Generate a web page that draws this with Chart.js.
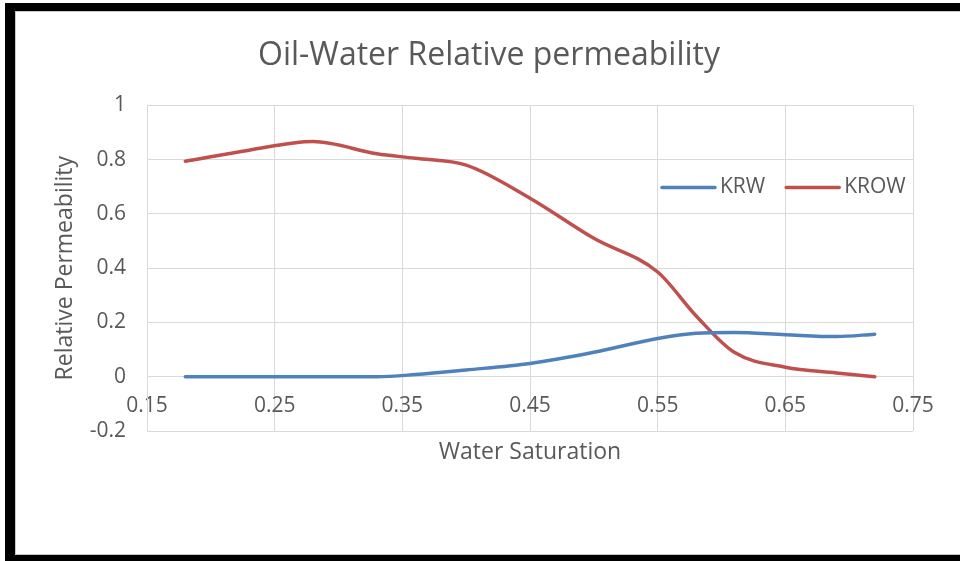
<!DOCTYPE html>
<html>
<head>
<meta charset="utf-8">
<script src="https://cdn.jsdelivr.net/npm/chart.js@4"></script>
<style>
  html, body { margin: 0; padding: 0; background: #fff; overflow: hidden; }
  #wrap { position: relative; width: 960px; height: 561px; }
  #wrap canvas { position: absolute; left: 0; top: 0; }
  .bar { position: absolute; background: #000; }
  .edge { position: absolute; background: #c8c8c8; }
</style>
</head>
<body>
<div id="wrap">
  <canvas id="chart" width="960" height="561"></canvas>
  <div class="bar" style="left:5px;top:3px;width:955px;height:8px"></div>
  <div class="bar" style="left:5px;top:3px;width:10px;height:558px"></div>
  <div class="bar" style="left:5px;top:555px;width:955px;height:6px"></div>
  <div class="edge" style="left:15px;top:11px;width:945px;height:1px"></div>
  <div class="edge" style="left:15px;top:11px;width:1px;height:544px"></div>
  <div class="edge" style="left:15px;top:554px;width:945px;height:1px"></div>
</div>
<script>
// Water saturation (fraction) and relative permeabilities
const waterSaturation = [0.18, 0.23, 0.28, 0.33, 0.36, 0.40, 0.45, 0.50, 0.55, 0.58, 0.61, 0.65, 0.69, 0.72];
const krw  = [0.000, 0.000, 0.000, 0.000, 0.008, 0.025, 0.049, 0.090, 0.141, 0.160, 0.163, 0.155, 0.148, 0.157];
const krow = [0.794, 0.835, 0.867, 0.822, 0.805, 0.780, 0.658, 0.510, 0.386, 0.225, 0.090, 0.035, 0.014, 0.000];

const xTickValues = [0.15, 0.25, 0.35, 0.45, 0.55, 0.65, 0.75];
const yTickValues = [-0.2, 0, 0.2, 0.4, 0.6, 0.8, 1];

const seriesNames = ['KRW', 'KROW'];
const seriesColors = ['#4F81BD', '#C0504D'];

const FONT = '"Open Sans", Lato, sans-serif';
const TEXT = '#595959';
const GRID = '#D9D9D9';

const toPoints = (ys) => waterSaturation.map((x, i) => ({ x, y: ys[i] }));

// Legend drawn inside the plot area, entries side by side
const inlineLegend = {
  id: 'inlineLegend',
  afterDatasetsDraw(chart) {
    const { ctx, chartArea } = chart;
    const y = chartArea.top + 82;
    let x = chartArea.left + 515;
    ctx.save();
    ctx.font = '21px ' + FONT;
    ctx.textBaseline = 'middle';
    ctx.textAlign = 'left';
    chart.data.datasets.forEach((ds) => {
      ctx.strokeStyle = ds.borderColor;
      ctx.lineWidth = 3.5;
      ctx.lineCap = 'round';
      ctx.beginPath();
      ctx.moveTo(x, y);
      ctx.lineTo(x + 53, y);
      ctx.stroke();
      ctx.fillStyle = TEXT;
      ctx.fillText(ds.label, x + 58, y);
      x += 58 + ctx.measureText(ds.label).width + 21;
    });
    ctx.restore();
  }
};

new Chart(document.getElementById('chart'), {
  type: 'line',
  data: {
    datasets: [
      { label: seriesNames[0], data: toPoints(krw),  borderColor: seriesColors[0] },
      { label: seriesNames[1], data: toPoints(krow), borderColor: seriesColors[1] }
    ]
  },
  options: {
    responsive: false,
    animation: false,
    devicePixelRatio: 1,
    layout: { padding: { left: 18, right: 0, top: 0, bottom: 0 } },
    elements: {
      line: { borderWidth: 3.5, cubicInterpolationMode: 'monotone', borderCapStyle: 'round', fill: false },
      point: { radius: 0, hoverRadius: 0 }
    },
    plugins: {
      legend: { display: false },
      tooltip: { enabled: false },
      title: {
        display: true,
        text: 'Oil-Water Relative permeability',
        color: TEXT,
        font: { family: FONT, size: 32, weight: 'normal' },
        padding: { top: 37, bottom: 30 }
      }
    },
    scales: {
      x: {
        type: 'linear',
        position: { y: 0 },
        min: 0.15,
        max: 0.75,
        afterBuildTicks: (s) => { s.ticks = xTickValues.map((v) => ({ value: v })); },
        grid: { color: GRID, lineWidth: 1, drawTicks: false },
        border: { color: GRID, width: 1 },
        ticks: {
          color: TEXT,
          padding: 17,
          maxRotation: 0,
          font: { family: FONT, size: 21 },
          callback: (v) => v.toFixed(2)
        }
      },
      xTitle: {
        type: 'linear',
        position: 'bottom',
        min: 0.15,
        max: 0.75,
        grid: { display: false },
        border: { display: false },
        ticks: { display: false },
        afterFit: (s) => { s.height = 130; },
        title: {
          display: true,
          text: 'Water Saturation',
          color: TEXT,
          font: { family: FONT, size: 23 },
          padding: { top: 0, bottom: 95 }
        }
      },
      y: {
        type: 'linear',
        min: -0.2,
        max: 1,
        afterBuildTicks: (s) => { s.ticks = yTickValues.map((v) => ({ value: v })); },
        afterFit: (s) => { s.width = 129; },
        grid: { color: GRID, lineWidth: 1, drawTicks: false },
        border: { color: GRID, width: 1 },
        ticks: {
          color: TEXT,
          padding: 21,
          font: { family: FONT, size: 21 },
          callback: (v) => String(+v.toFixed(1))
        },
        title: {
          display: true,
          text: 'Relative Permeability',
          color: TEXT,
          font: { family: FONT, size: 23 },
          padding: { top: 34, bottom: 0 }
        }
      },
      // empty margin on the right of the plot
      yRight: {
        type: 'linear',
        position: 'right',
        min: -0.2,
        max: 1,
        grid: { display: false },
        border: { display: false },
        ticks: { display: false },
        afterFit: (s) => { s.width = 47; }
      }
    }
  },
  plugins: [inlineLegend]
});
</script>
</body>
</html>
